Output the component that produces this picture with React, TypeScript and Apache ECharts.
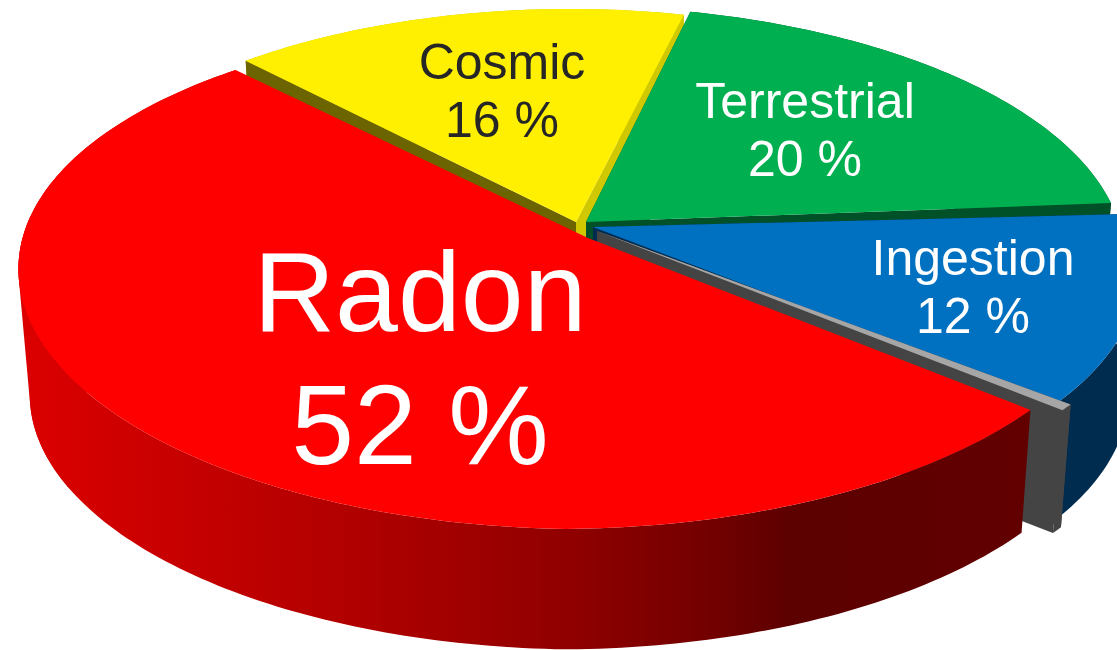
import React, { useEffect, useRef } from "react";
import * as echarts from "echarts";

// Clockwise from the Radon slice
const categories = ["Radon", "Cosmic", "Terrestrial", "Ingestion", "Other"];
const percentages = [52, 16, 20, 12, 0.4];
const paintOrder = [1, 2, 3, 4, 0];

const topColors = ["#FF0000", "#FEF000", "#00B050", "#0070C0", "#A6A6A6"];
const startWallColors = [null, "#6B6400", "#005028", "#002C50", "#444444"];
const endWallColors = [null, "#D0C800", "#005028", "#002C50", "#444444"];
const textColors = ["#FFFFFF", "#262626", "#FFFFFF", "#FFFFFF", "#FFFFFF"];
const labelBox = [
  { x: 420, y: 358, size: 113, lh: 133 },
  { x: 502, y: 91, size: 50, lh: 58 },
  { x: 805, y: 130, size: 50, lh: 58 },
  { x: 973, y: 287, size: 50, lh: 58 },
  null,
];
// Where each slice's point sits, relative to HUB
const apexOffsets: [number, number][] = [
  [3, 10],
  [-9, -6],
  [1, -6],
  [8, -1],
  [12, 3],
];
// How far each slice's rim is moved out, relative to RIM_CENTER
const rimOffsets: [number, number][] = [
  [0, 9],
  [0, -5],
  [3, -8],
  [18, 3],
  [32, 4],
];
// Horizontal scale of each slice's rim
const rimScale = [1, 0.97, 1, 1, 1];
// Flattening of the rim towards the sides, pixels
const flatten = [7, 0, 0, 0, 0];

const START_DEG = 40.5;
const HUB = { x: 585, y: 228 };
const RIM_CENTER = { x: 570, y: 228 };
const A = 545;
const B = 247;
const K = 0.154;
const DEPTH_SCALE = 0.98;
const VANISH = { x: 585, y: 6550 };

type Pt = [number, number];

const total = percentages.reduce((a, b) => a + b, 0);
const ranges = percentages.map((_, i) => {
  const before = percentages.slice(0, i).reduce((a, b) => a + b, 0);
  const a0 = START_DEG + (before / total) * 360;
  return [a0, a0 + (percentages[i] / total) * 360];
});

const rim = (deg: number, i: number): Pt => {
  const t = (deg * Math.PI) / 180;
  const d = 1 - K * Math.sin(t);
  return [
    RIM_CENTER.x + (A * rimScale[i] * Math.cos(t)) / d + rimOffsets[i][0],
    RIM_CENTER.y + (B * Math.sin(t)) / d + rimOffsets[i][1] - flatten[i] * Math.abs(Math.cos(t)),
  ];
};
const drop = (p: Pt): Pt => [
  VANISH.x + (p[0] - VANISH.x) * DEPTH_SCALE,
  VANISH.y + (p[1] - VANISH.y) * DEPTH_SCALE,
];

// Convex hull: the wall's outline where it turns away from the viewer
const hull = (input: Pt[]): Pt[] => {
  const pts = [...input].sort((a, b) => a[0] - b[0] || a[1] - b[1]);
  const cross = (o: Pt, a: Pt, b: Pt) => (a[0] - o[0]) * (b[1] - o[1]) - (a[1] - o[1]) * (b[0] - o[0]);
  const half = (list: Pt[]) => {
    const out: Pt[] = [];
    for (const p of list) {
      while (out.length >= 2 && cross(out[out.length - 2], out[out.length - 1], p) <= 0) out.pop();
      out.push(p);
    }
    out.pop();
    return out;
  };
  return [...half(pts), ...half([...pts].reverse())];
};

const gradient = (stops: [number, string][]) =>
  new echarts.graphic.LinearGradient(0, 0, 1117, 0, stops.map(([offset, color]) => ({ offset, color })), true);

const rimFill = (i: number) => {
  if (i === 0)
    return gradient([
      [0.02, "#DC0000"],
      [0.18, "#C40000"],
      [0.32, "#B00000"],
      [0.51, "#900000"],
      [0.64, "#720000"],
      [0.71, "#5C0000"],
      [0.92, "#620000"],
    ]);
  return endWallColors[i] as string;
};

const renderSlice = (params: any) => {
  const i = paintOrder[params.dataIndex];
  const [a0, a1] = ranges[i];
  const apex: Pt = [HUB.x + apexOffsets[i][0], HUB.y + apexOffsets[i][1]];
  const steps = Math.max(2, Math.ceil(a1 - a0));
  const arc: Pt[] = [];
  for (let s = 0; s <= steps; s++) arc.push(rim(a0 + ((a1 - a0) * s) / steps, i));
  const first = arc[0];
  const last = arc[arc.length - 1];
  const children: any[] = [];
  const wall = (points: Pt[], fill: any) =>
    children.push({ type: "polygon", shape: { points }, style: { fill }, silent: true });
  const side = rimFill(i);
  wall([...arc, ...arc.map(drop).reverse()], side);
  if (i === 0) {
    const bend = arc.filter((_, s) => {
      const deg = a0 + ((a1 - a0) * s) / steps;
      return deg >= 150 && deg <= 205;
    });
    wall(hull([...bend, ...bend.map(drop)]), side);
  }
  if (endWallColors[i]) wall([apex, last, drop(last), drop(apex)], endWallColors[i]);
  if (startWallColors[i]) wall([apex, first, drop(first), drop(apex)], startWallColors[i]);
  wall([apex, ...arc], topColors[i]);
  const box = labelBox[i];
  if (box) {
    children.push({
      type: "text",
      x: box.x,
      y: box.y,
      silent: true,
      style: {
        text: `${categories[i]}\n${percentages[i]} %`,
        fill: textColors[i],
        font: `${box.size}px 'Liberation Sans', Arial, sans-serif`,
        lineHeight: box.lh,
        align: "center",
        verticalAlign: "middle",
      },
    });
  }
  return { type: "group", children };
};

export default function App() {
  const ref = useRef<HTMLDivElement>(null);
  useEffect(() => {
    if (!ref.current) return;
    const chart = echarts.init(ref.current, undefined, { renderer: "svg" });
    chart.setOption({
      animation: false,
      backgroundColor: "#FFFFFF",
      series: [
        {
          type: "custom",
          coordinateSystem: "none",
          silent: true,
          clip: false,
          renderItem: renderSlice,
          data: paintOrder.map((i) => ({ name: categories[i], value: percentages[i] })),
        },
      ],
    });
    return () => chart.dispose();
  }, []);
  return <div ref={ref} style={{ position: "absolute", left: 0, top: 0, width: 1117, height: 650, overflow: "hidden" }} />;
}
